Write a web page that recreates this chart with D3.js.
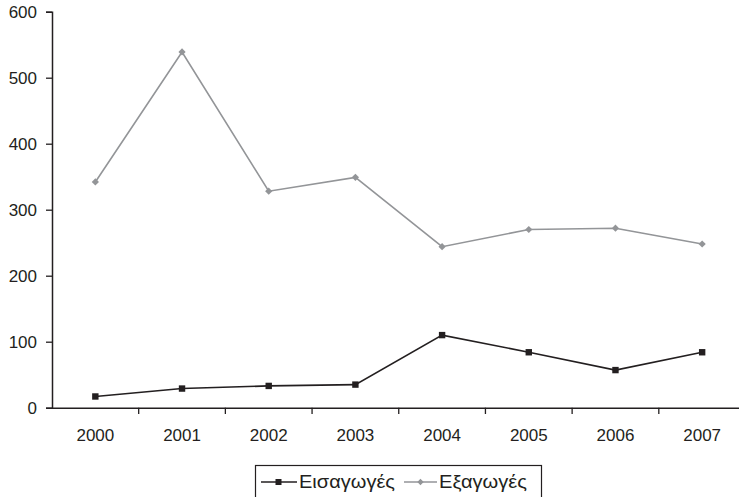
<!DOCTYPE html>
<html><head><meta charset="utf-8">
<script src="https://cdn.jsdelivr.net/npm/d3@7"></script>
<style>body{margin:0;background:#fff}svg{display:block}text{font-family:"Liberation Sans",Arial,sans-serif;fill:#231f20}</style>
</head><body><svg id="c" width="739" height="497"></svg>
<script>
const years = ["2000","2001","2002","2003","2004","2005","2006","2007"];
const imports = [17, 29, 33, 35, 110, 84, 57, 84];
const exports = [342, 539, 328, 349, 244, 270, 272, 248];
const yTicks = [0,100,200,300,400,500,600];
const seriesNames = ["Εισαγωγές","Εξαγωγές"];

const svg = d3.select("#c");
const x = d3.scaleBand().domain(years).range([52, 745.5]);
const y = d3.scaleLinear().domain([0,600]).range([407.7, 11.7]);
const ink = "#231f20", gray = "#939598";

// y axis
const ya = svg.append("g").attr("transform","translate(52,0)")
  .call(d3.axisLeft(y).tickValues(yTicks).tickSize(6).tickPadding(9));
ya.select(".domain").attr("stroke",ink).attr("stroke-width",1.5);
ya.selectAll(".tick line").attr("stroke",ink).attr("stroke-width",1.3);
ya.selectAll("text").style("font-size","17px").attr("fill",ink).attr("dy","0.35em");

// x axis
const xa = svg.append("g").attr("transform","translate(0,407.7)")
  .call(d3.axisBottom(x).tickSize(0).tickPadding(21));
xa.select(".domain").attr("stroke",ink).attr("stroke-width",1.5);
xa.selectAll("text").style("font-size","17px").attr("fill",ink);
// category boundary ticks
svg.append("g").selectAll("line").data(years.slice(1)).join("line")
  .attr("x1",d=>x(d)).attr("x2",d=>x(d)).attr("y1",407.7).attr("y2",414)
  .attr("stroke",ink).attr("stroke-width",1.3);

const cx = d => x(d) + x.bandwidth()/2;
const line = d3.line().x((d,i)=>cx(years[i])).y(d=>y(d));
const diamond = d3.symbol(d3.symbolSquare, 26);

svg.append("path").datum(exports).attr("d",line).attr("fill","none").attr("stroke",gray).attr("stroke-width",1.6);
svg.append("g").selectAll("path").data(exports).join("path")
  .attr("d", diamond).attr("transform",(d,i)=>`translate(${cx(years[i])},${y(d)}) rotate(45)`).attr("fill",gray);

svg.append("path").datum(imports).attr("d",line).attr("fill","none").attr("stroke",ink).attr("stroke-width",1.6);
svg.append("g").selectAll("rect").data(imports).join("rect")
  .attr("x",(d,i)=>cx(years[i])-3.2).attr("y",d=>y(d)-3.2).attr("width",6.4).attr("height",6.4).attr("fill",ink);

// legend
const lg = svg.append("g");
lg.append("rect").attr("x",255.5).attr("y",465.5).attr("width",286).attr("height",40).attr("fill","none").attr("stroke",ink).attr("stroke-width",1.2);
const ly = 482;
lg.append("line").attr("x1",261).attr("x2",297).attr("y1",ly).attr("y2",ly).attr("stroke",ink).attr("stroke-width",1.5);
lg.append("rect").attr("x",275.5).attr("y",ly-3).attr("width",6).attr("height",6).attr("fill",ink);
lg.append("text").attr("x",299).attr("y",ly).attr("dy","0.35em").style("font-size","18px")
  .attr("textLength",96).attr("lengthAdjust","spacingAndGlyphs").text(seriesNames[0]);
lg.append("line").attr("x1",404).attr("x2",437).attr("y1",ly).attr("y2",ly).attr("stroke",gray).attr("stroke-width",1.5);
lg.append("path").attr("d",d3.symbol(d3.symbolSquare,20)).attr("transform",`translate(420.5,${ly}) rotate(45)`).attr("fill",gray);
lg.append("text").attr("x",439).attr("y",ly).attr("dy","0.35em").style("font-size","18px")
  .attr("textLength",88).attr("lengthAdjust","spacingAndGlyphs").text(seriesNames[1]);
</script></body></html>
